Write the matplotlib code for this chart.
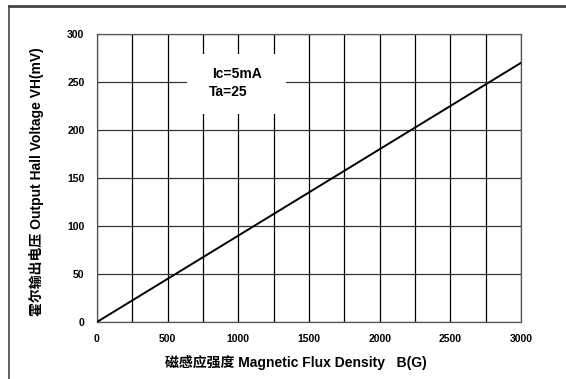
import matplotlib.pyplot as plt
from matplotlib.patches import Rectangle
from matplotlib.lines import Line2D

plt.rcParams['font.family'] = ['Liberation Sans', 'Noto Sans CJK SC', 'DejaVu Sans']
plt.rcParams['font.weight'] = 'bold'

# data
flux = [0, 3000]
voltage = [0, 270]
xticks = [0, 500, 1000, 1500, 2000, 2500, 3000]
yticks = [0, 50, 100, 150, 200, 250, 300]
xgrid = [250 * i for i in range(13)]
ygrid = [50 * i for i in range(7)]

fig = plt.figure(figsize=(5.66, 3.79), dpi=100)
ax = fig.add_axes([97 / 566, 1 - 322 / 379, 424 / 566, 288 / 379])

for gx in xgrid:
    ax.axvline(gx, color='black', lw=0.9, zorder=1)
for gy in ygrid:
    ax.axhline(gy, color='#333333', lw=0.9, zorder=1)

# white box behind the annotation
ax.add_patch(Rectangle((640, 217), 700, 62, facecolor='white', edgecolor='none', zorder=2))
ax.text(990, 258, 'Ic=5mA', ha='center', va='center', fontsize=10, fontweight='bold', zorder=3)
ax.text(790, 240, 'Ta=25', ha='left', va='center', fontsize=10, fontweight='bold', zorder=3)

ax.plot(flux, voltage, color='black', lw=1.4, zorder=4)

ax.set_xlim(0, 3000)
ax.set_ylim(0, 300)
ax.set_xticks(xticks)
ax.set_yticks(yticks)
ax.tick_params(length=0, labelsize=7.5, pad=9)
for lbl in ax.get_xticklabels() + ax.get_yticklabels():
    lbl.set_fontweight('bold')
for s in ax.spines.values():
    s.set_color('#555555')
    s.set_linewidth(0.9)

ax.set_xlabel('磁感应强度 Magnetic Flux Density   B(G)', fontsize=10, fontweight='bold')
ax.set_ylabel('霍尔输出电压 Output Hall Voltage VH(mV)', fontsize=10, fontweight='bold')
ax.xaxis.set_label_coords(0.47, -0.115)
ax.yaxis.set_label_coords(-0.124, 0.488)

# outer frame (top and left edges)
fig.add_artist(Line2D([9 / 566, 1], [1 - 6 / 379, 1 - 6 / 379], color='#444444', lw=2))
fig.add_artist(Line2D([9 / 566, 9 / 566], [0, 1 - 6 / 379], color='#444444', lw=1.2))

fig.savefig('out.png', dpi=100)
